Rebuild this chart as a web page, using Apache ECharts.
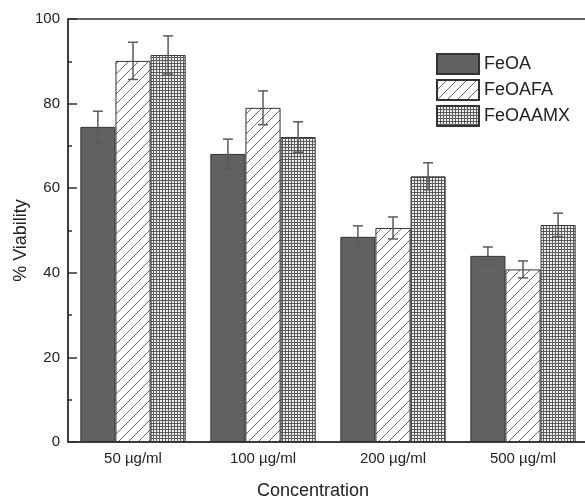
<!DOCTYPE html>
<html><head><meta charset="utf-8">
<script src="https://cdn.jsdelivr.net/npm/echarts@6/dist/echarts.min.js"></script>
<style>html,body{margin:0;padding:0;background:#fff}#c{width:585px;height:502px}</style>
</head><body><div id="c"></div>
<script>
var categories = ['50 µg/ml', '100 µg/ml', '200 µg/ml', '500 µg/ml'];
var seriesNames = ['FeOA', 'FeOAFA', 'FeOAAMX'];
var feoa = [74.5, 68.1, 48.5, 44.0];
var feoaErr = [3.7, 3.5, 2.6, 2.1];
var feoafa = [90.1, 79.0, 50.6, 40.8];
var feoafaErr = [4.4, 4.0, 2.6, 2.0];
var feoaamx = [91.5, 72.1, 62.8, 51.3];
var feoaamxErr = [4.5, 3.6, 3.2, 2.8];
var yTicks = [0, 20, 40, 60, 80, 100];

function hatchPattern() {
  var c = document.createElement('canvas'); c.width = 10; c.height = 10;
  var g = c.getContext('2d');
  g.fillStyle = '#fff'; g.fillRect(0, 0, 10, 10);
  g.strokeStyle = '#666'; g.lineWidth = 1;
  g.beginPath();
  g.moveTo(-1, 11); g.lineTo(11, -1);
  g.moveTo(-1, 1); g.lineTo(1, -1);
  g.moveTo(9, 11); g.lineTo(11, 9);
  g.stroke();
  return c;
}
function checkPattern() {
  var c = document.createElement('canvas'); c.width = 3; c.height = 3;
  var g = c.getContext('2d');
  g.fillStyle = '#f0f0f0'; g.fillRect(0, 0, 3, 3);
  g.fillStyle = '#5a5a5a';
  g.fillRect(0, 0, 3, 1); g.fillRect(0, 0, 1, 3);
  return c;
}

var values = [feoa, feoafa, feoaamx];
var errs = [feoaErr, feoafaErr, feoaamxErr];
var fills = ['#616161', {image: hatchPattern(), repeat: 'repeat'}, {image: checkPattern(), repeat: 'repeat'}];
var catGap = 0.19;

var errData = [];
for (var s = 0; s < 3; s++) for (var i = 0; i < categories.length; i++) errData.push([i, values[s][i], errs[s][i], s]);

var font = 'Liberation Sans, Arial, sans-serif';
var series = [];
for (var s = 0; s < 3; s++) {
  series.push({
    name: seriesNames[s], type: 'bar', data: values[s], barGap: '0%', barCategoryGap: (catGap * 100) + '%',
    itemStyle: {color: fills[s], borderColor: '#333', borderWidth: 1}, z: 2
  });
}
series.push({
  type: 'custom', data: errData, z: 5, silent: true,
  renderItem: function (params, api) {
    var ci = api.value(0), v = api.value(1), e = api.value(2), si = api.value(3);
    var band = api.size([1, 0])[0];
    var bw = band * (1 - catGap) / 3;
    var c = api.coord([ci, v]);
    var x = c[0] + (si - 1) * bw;
    var top = api.coord([ci, v + e])[1], bot = api.coord([ci, v - e])[1];
    var hw = 5;
    var st = {stroke: '#5a5a5a', lineWidth: 1.5};
    return {type: 'group', children: [
      {type: 'line', shape: {x1: x, y1: top, x2: x, y2: bot}, style: st},
      {type: 'line', shape: {x1: x - hw, y1: top, x2: x + hw, y2: top}, style: st},
      {type: 'line', shape: {x1: x - hw, y1: bot, x2: x + hw, y2: bot}, style: st}
    ]};
  }
});

var chart = echarts.init(document.getElementById('c'), null, {renderer: 'canvas'});
chart.setOption({
  animation: false,
  textStyle: {fontFamily: font},
  grid: {left: 68, width: 520, top: 19, height: 423, show: true, borderColor: '#333', borderWidth: 1.5,
         containLabel: false, outerBoundsMode: 'none'},
  legend: {
    orient: 'vertical', left: 436, top: 53, itemWidth: 42, itemHeight: 20, itemGap: 4, padding: 0,
    icon: 'rect',
    data: seriesNames, selectedMode: false,
    textStyle: {fontFamily: font, fontSize: 18, color: '#222', padding: [0, 0, 0, 0]}
  },
  xAxis: [{
    type: 'category', data: categories, position: 'bottom',
    name: 'Concentration', nameLocation: 'middle', nameGap: 40, nameMoveOverlap: false,
    nameTextStyle: {fontFamily: font, fontSize: 18, color: '#222', padding: [0, 30, 0, 0]},
    axisLine: {lineStyle: {color: '#333', width: 1.5}},
    axisTick: {inside: true, alignWithLabel: true, length: 7, lineStyle: {color: '#333', width: 1.5}},
    axisLabel: {fontFamily: font, fontSize: 15, color: '#222', margin: 9}
  }, {
    type: 'category', data: categories, position: 'bottom',
    axisLine: {show: false},
    axisTick: {inside: true, alignWithLabel: false, length: 4, lineStyle: {color: '#333', width: 1.5}},
    axisLabel: {show: false}
  }],
  yAxis: {
    type: 'value', min: yTicks[0], max: yTicks[yTicks.length - 1], interval: 20,
    name: '% Viability', nameLocation: 'middle', nameGap: 38, nameMoveOverlap: false,
    nameTextStyle: {fontFamily: font, fontSize: 18, color: '#222', padding: [0, 20, 0, 0]},
    axisLine: {show: true, lineStyle: {color: '#333', width: 1.5}},
    axisTick: {show: true, inside: true, length: 9, lineStyle: {color: '#333', width: 1.5}},
    minorTick: {show: true, splitNumber: 2, length: 4, lineStyle: {color: '#333', width: 1.5}},
    splitLine: {show: false},
    axisLabel: {fontFamily: font, fontSize: 15, color: '#222', margin: 8}
  },
  series: series
});
</script></body></html>
